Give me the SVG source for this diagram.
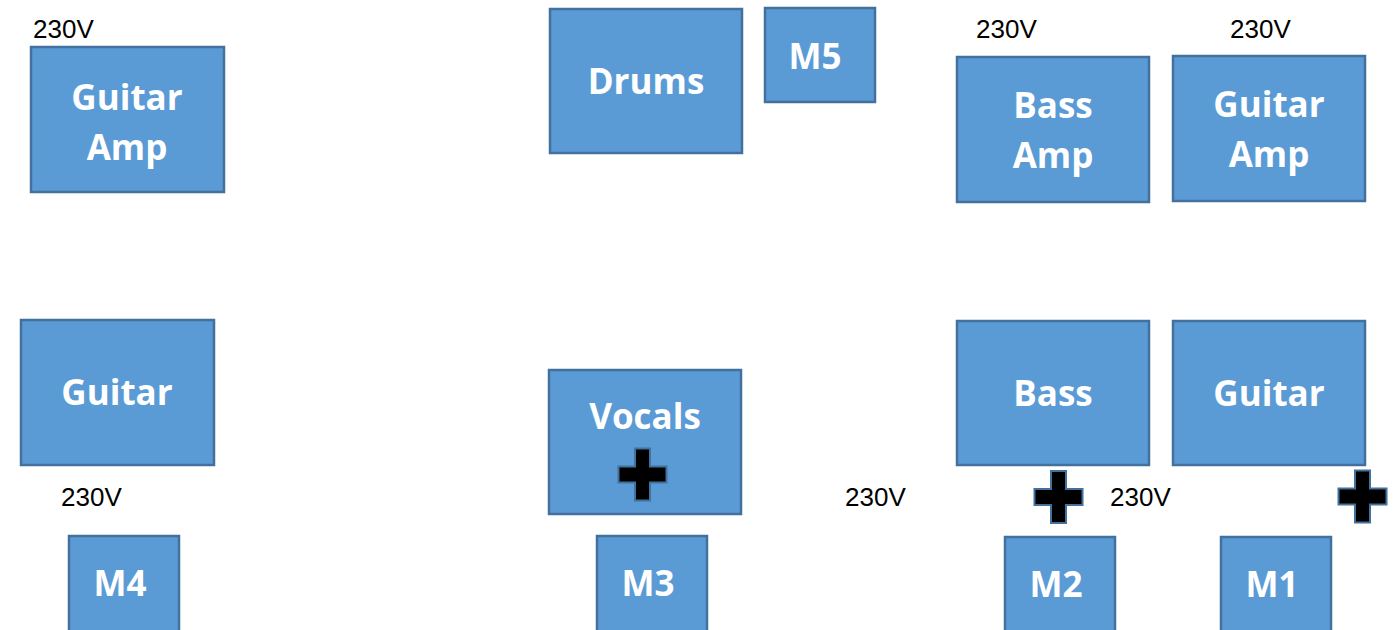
<svg xmlns="http://www.w3.org/2000/svg" width="1393" height="630" viewBox="0 0 1393 630">
<style>
.box{fill:#5B9BD5;stroke:#41719C;stroke-width:2.5}
.lbl{font-family:"Open Sans","Liberation Sans",sans-serif;font-weight:bold;font-size:35px;fill:#fff;text-anchor:middle}
.v{font-family:"Liberation Sans",sans-serif;font-size:26px;fill:#000}
.plus{fill:#000;stroke:#41719C;stroke-width:2}
</style>
<defs>
<path id="plus" d="M-7.5,-26 H7.5 V-8 H24 V8 H7.5 V26 H-7.5 V8 H-24 V-8 H-7.5 Z"/>
</defs>
<rect width="1393" height="630" fill="#fff"/>
<g id="connectors"/>
<g id="guitar-amp-left"><rect class="box" x="31" y="47" width="193" height="145"/><text class="lbl" x="127" y="110">Guitar</text><text class="lbl" x="127" y="160">Amp</text></g>
<g id="guitar-left"><rect class="box" x="21" y="320" width="193" height="145"/><text class="lbl" x="117" y="405">Guitar</text></g>
<g id="m4"><rect class="box" x="69" y="536" width="110" height="97"/><text class="lbl" x="120" y="596">M4</text></g>
<g id="drums"><rect class="box" x="550" y="9" width="192" height="144"/><text class="lbl" x="646" y="94">Drums</text></g>
<g id="m5"><rect class="box" x="765" y="8" width="110" height="94"/><text class="lbl" x="815" y="69">M5</text></g>
<g id="vocals"><rect class="box" x="549" y="370" width="192" height="144"/><text class="lbl" x="645" y="429">Vocals</text></g>
<g id="m3"><rect class="box" x="597" y="536" width="110" height="97"/><text class="lbl" x="648" y="596">M3</text></g>
<g id="bass-amp"><rect class="box" x="957" y="57" width="192" height="145"/><text class="lbl" x="1053" y="118">Bass</text><text class="lbl" x="1053" y="168">Amp</text></g>
<g id="guitar-amp-right"><rect class="box" x="1173" y="56" width="192" height="145"/><text class="lbl" x="1269" y="117">Guitar</text><text class="lbl" x="1269" y="167">Amp</text></g>
<g id="bass"><rect class="box" x="957" y="321" width="192" height="144"/><text class="lbl" x="1053" y="406">Bass</text></g>
<g id="guitar-right"><rect class="box" x="1173" y="321" width="192" height="144"/><text class="lbl" x="1269" y="406">Guitar</text></g>
<g id="m2"><rect class="box" x="1005" y="537" width="110" height="96"/><text class="lbl" x="1056" y="597">M2</text></g>
<g id="m1"><rect class="box" x="1221" y="537" width="110" height="96"/><text class="lbl" x="1272" y="597">M1</text></g>
<g id="power">
<text class="v" x="33" y="38">230V</text>
<text class="v" x="61" y="506">230V</text>
<text class="v" x="976" y="38">230V</text>
<text class="v" x="1230" y="38">230V</text>
<text class="v" x="845" y="506">230V</text>
<text class="v" x="1110" y="506">230V</text>
</g>
<g id="plugs">
<use href="#plus" class="plus" transform="translate(642.5,474.5)"/>
<use href="#plus" class="plus" transform="translate(1058.5,497)"/>
<use href="#plus" class="plus" transform="translate(1362.5,496.5)"/>
</g>
</svg>
